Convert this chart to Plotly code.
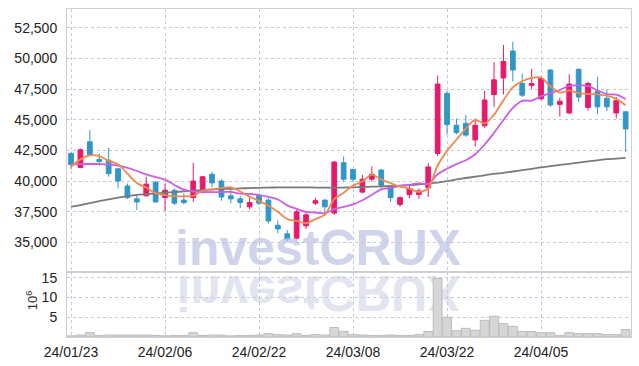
import base64
import plotly.graph_objects as go

dates = ["24/01/23","24/01/24","24/01/25","24/01/26","24/01/29","24/01/30","24/01/31",
         "24/02/01","24/02/02","24/02/05","24/02/06","24/02/07","24/02/08","24/02/13",
         "24/02/14","24/02/15","24/02/16","24/02/19","24/02/20","24/02/21","24/02/22",
         "24/02/23","24/02/26","24/02/27","24/02/28","24/02/29","24/03/04","24/03/05",
         "24/03/06","24/03/07","24/03/08","24/03/11","24/03/12","24/03/13","24/03/14",
         "24/03/15","24/03/18","24/03/19","24/03/20","24/03/21","24/03/22","24/03/25",
         "24/03/26","24/03/27","24/03/28","24/03/29","24/04/01","24/04/02","24/04/03",
         "24/04/04","24/04/05","24/04/08","24/04/09","24/04/11","24/04/12","24/04/15",
         "24/04/16","24/04/17","24/04/18","24/04/19"]

open_ = [42250,41100,43200,41750,41700,41000,39600,38550,38800,39900,
         38650,39250,38450,38650,39100,40550,40000,38800,38550,37900,
         38850,38450,36400,35700,35350,36350,38200,38450,37400,41500,
         40950,39100,40150,40900,39600,38100,38900,38900,39450,42250,
         47150,44550,44700,43350,44500,47050,48400,50600,47950,47800,
         46700,49050,46250,45550,49100,46000,47300,46750,45550,45650]
high = [42400,42650,44150,42250,42700,41050,39800,38850,40350,40000,
        39800,39400,39000,41500,40400,40750,40150,39300,38800,38800,
        39000,38600,36800,36000,37650,37400,38650,38500,41650,42000,
        41000,40500,41200,41000,39650,38750,39650,39400,41450,48600,
        47350,45100,45400,45100,47350,49700,51100,51350,48750,49150,
        48500,49100,46800,48700,49200,48100,48500,47450,46850,45650]
low = [40950,41050,42050,41250,40350,39400,38550,37650,38750,38250,
       37550,38050,38100,38300,39000,39500,38400,38200,37800,37700,
       38050,36550,35750,35050,35250,36100,38050,37200,37250,39950,
       39900,39000,39950,39400,38300,37900,38600,38550,38700,42050,
       43800,43800,43600,42800,44350,46050,47050,48100,46850,47500,
       46600,46050,45250,45450,46450,45750,45450,45700,45100,42400]
close = [41350,42550,42100,41600,40600,40000,38650,38300,39750,38300,
         39250,38200,38250,40000,40350,39850,38700,38550,38250,38250,
         38200,36750,36100,35250,37500,37250,38400,37900,41550,40150,
         40150,40150,40550,39650,38650,38650,39400,39200,41150,47900,
         44600,43950,43750,44550,46600,48250,49750,49050,47000,47950,
         48350,46200,46500,47900,46850,47950,46050,46050,46550,44250]

ma_short = [41170,41770,42090,42040,41640,41370,40600,39840,39470,39020,
            38860,38770,38750,38800,39210,39330,39430,39490,39150,38720,
            38390,37990,37500,36900,36760,36570,36900,37260,38520,39050,
            39630,39980,40510,40130,39830,39540,39390,39120,39420,41270,
            42460,43370,44280,44960,44700,45420,46580,47640,48130,48400,
            48430,47720,47210,47390,47170,47090,47060,46970,46700,46170]
ma_mid = [41360,41390,41390,41390,41360,41250,41080,40820,40550,40330,
          40120,39680,39300,39140,39110,39100,39100,39120,38970,38960,
          38860,38710,38500,38020,37740,37480,37440,37380,37710,37900,
          38100,38440,38880,39330,39440,39590,39690,39820,39770,40550,
          41000,41380,41700,42190,42980,43940,44970,45960,46540,46550,
          46920,47150,47420,47760,47790,47760,47390,47090,47040,46670]
ma_long = [37910,38040,38210,38370,38510,38660,38780,38880,38940,39000,
           39050,39100,39160,39210,39270,39310,39350,39370,39400,39430,
           39450,39470,39490,39490,39490,39490,39470,39470,39470,39470,
           39490,39510,39540,39570,39590,39630,39670,39730,39800,39880,
           40000,40130,40250,40360,40470,40590,40670,40780,40890,41000,
           41120,41220,41320,41410,41510,41600,41690,41780,41830,41890]

volume_m = [0.3,0.5,1.1,0.4,0.5,0.5,0.5,0.5,0.5,0.4,
            0.3,0.4,0.4,1.1,0.4,0.5,0.5,0.3,0.4,0.4,
            0.5,0.85,0.6,0.5,0.85,0.4,0.6,0.5,2.4,1.4,
            0.6,0.5,0.4,0.4,0.5,0.4,0.4,0.6,1.4,14.8,
            5.0,1.6,2.2,1.7,4.2,5.25,3.4,2.7,1.4,1.4,
            1.1,1.1,0.35,1.1,0.85,0.85,0.85,0.6,0.6,1.9]

price_ticks = [35000, 37500, 40000, 42500, 45000, 47500, 50000, 52500]
vol_ticks = [5, 10, 15]
date_ticks = ["24/01/23", "24/02/06", "24/02/22", "24/03/08", "24/03/22", "24/04/05"]

UP = "#e8196b"
DOWN = "#3196c8"
GRID = "#c6c9dc"
LINE = "#cfcfd4"
TICKFONT = dict(family="Liberation Sans, Arial, sans-serif", size=14, color="#222222")

fig = go.Figure()

fig.add_trace(go.Bar(x=dates, y=volume_m, xaxis="x2", yaxis="y2",
                     marker=dict(color="#d6d6d6", line=dict(color="#bdbdbd", width=1)),
                     showlegend=False, hoverinfo="skip"))

fig.add_trace(go.Candlestick(x=dates, open=open_, high=high, low=low, close=close,
                             xaxis="x", yaxis="y",
                             increasing=dict(line=dict(color=UP, width=1), fillcolor=UP),
                             decreasing=dict(line=dict(color=DOWN, width=1), fillcolor=DOWN),
                             whiskerwidth=0, showlegend=False))

fig.add_trace(go.Scatter(x=dates, y=ma_long, mode="lines", xaxis="x", yaxis="y",
                         line=dict(color="#7a7a7a", width=1.8, shape="spline"), showlegend=False))
fig.add_trace(go.Scatter(x=dates, y=ma_mid, mode="lines", xaxis="x", yaxis="y",
                         line=dict(color="#cc5ee6", width=1.8, shape="spline"), showlegend=False))
fig.add_trace(go.Scatter(x=dates, y=ma_short, mode="lines", xaxis="x", yaxis="y",
                         line=dict(color="#ef8a4e", width=1.8, shape="spline"), showlegend=False))

xr = [-0.43, len(dates) - 0.43]

common_x = dict(type="category", range=xr, tickmode="array", tickvals=date_ticks,
                showgrid=True, gridcolor=GRID, griddash="dot", gridwidth=1,
                showline=True, linecolor=LINE, mirror=True, zeroline=False,
                ticks="", tickfont=TICKFONT, automargin=False)

svg = ("<svg xmlns='http://www.w3.org/2000/svg' width='300' height='50'>"
       "<text x='0' y='-1' transform='scale(1,-1)' font-family='Liberation Sans, Arial, sans-serif' "
       "font-weight='bold' font-size='50' fill='#e2e5f0' textLength='284' "
       "lengthAdjust='spacingAndGlyphs'>investCRUX</text></svg>")
svg_uri = "data:image/svg+xml;base64," + base64.b64encode(svg.encode()).decode()

fig.update_layout(
    width=639, height=366,
    margin=dict(l=67, r=8, t=9, b=29),
    paper_bgcolor="white", plot_bgcolor="white",
    bargap=0.06, boxgap=0.28,
    xaxis=dict(common_x, domain=[0, 1], anchor="y", matches="x2", showticklabels=False,
               rangeslider=dict(visible=False)),
    xaxis2=dict(common_x, domain=[0, 1], anchor="y2", showticklabels=True,
                ticklabelstandoff=2),
    yaxis=dict(domain=[0.197, 1], range=[32560, 54020], tickvals=price_ticks,
               tickformat=",", showgrid=True, gridcolor=GRID, griddash="dot",
               showline=True, linecolor=LINE, mirror=True, zeroline=False,
               ticks="", tickfont=TICKFONT, ticklabelstandoff=6, automargin=False),
    yaxis2=dict(domain=[0, 0.197], range=[0, 16.35], tickvals=vol_ticks,
                showgrid=True, gridcolor=GRID, griddash="dot",
                showline=True, linecolor=LINE, mirror=True, zeroline=False,
                ticks="", tickfont=TICKFONT, ticklabelstandoff=6, automargin=False),
    annotations=[
        dict(text="investCRUX", xref="paper", yref="paper", x=0.445, y=0.272,
             xanchor="center", yanchor="middle", showarrow=False,
             font=dict(family="Liberation Sans, Arial, sans-serif", size=50,
                       color="rgba(188,196,226,0.72)", weight="bold")),
        dict(text="10<sup>6</sup>", xref="paper", yref="paper", x=-0.062, y=0.112,
             xanchor="center", yanchor="middle", showarrow=False, textangle=-90,
             font=dict(family="Liberation Sans, Arial, sans-serif", size=13, color="#333333")),
    ],
    images=[dict(source=svg_uri, xref="paper", yref="paper", x=0.194, y=0.19,
                 sizex=300 / 564.3, sizey=50 / 328, xanchor="left", yanchor="top",
                 sizing="stretch", layer="below")],
)

fig.write_html("out.html", config={"displayModeBar": False},
               post_script="document.body.style.margin='0';document.body.style.overflow='hidden';")
